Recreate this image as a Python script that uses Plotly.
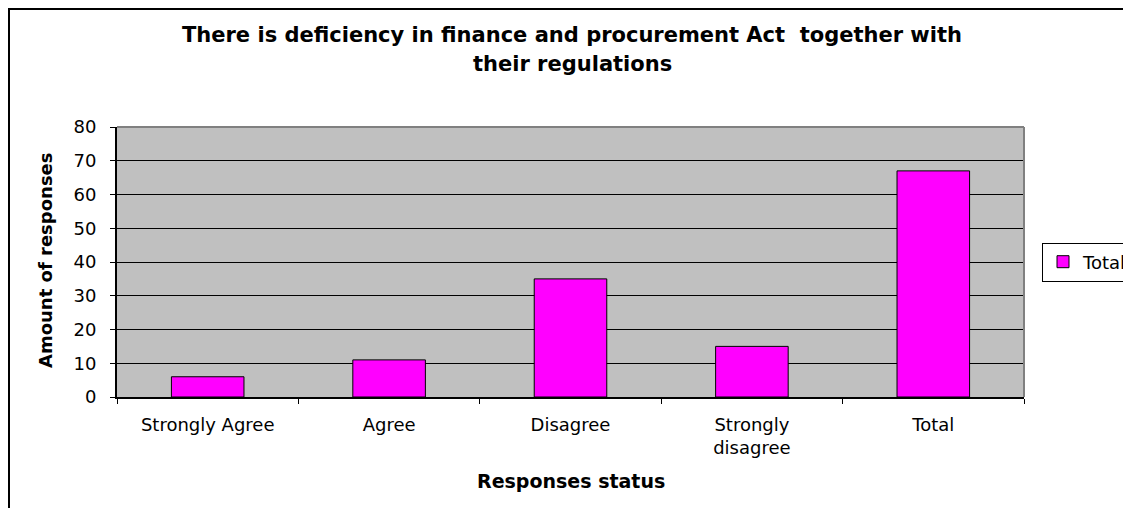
import plotly.graph_objects as go

categories = ["Strongly Agree", "Agree", "Disagree", "Strongly<br>disagree", "Total"]
values = [6, 11, 35, 15, 67]
series_name = "Total"
title_lines = ["There is deficiency in finance and procurement Act  together with",
               "their regulations"]
x_title = "Responses status"
y_title = "Amount of responses"
y_ticks = [0, 10, 20, 30, 40, 50, 60, 70, 80]

# page body has an 8px margin: express reference pixel positions shifted by it
OFF = 8
W, H = 1131, 508
L, T = 117 - OFF, 127 - OFF
R = W - (1024 - OFF)
B = H - (397 - OFF)
pw, ph = W - L - R, H - T - B

def px_x(x):
    return (x - OFF - L) / pw

def px_y(y):
    return 1 - (y - OFF - T) / ph

FONT = "DejaVu Sans"

fig = go.Figure()
fig.add_trace(go.Bar(
    x=categories, y=values, name=series_name,
    marker=dict(color="#FF00FF", line=dict(color="black", width=1)),
    showlegend=True,
))

fig.update_layout(
    width=W, height=H,
    margin=dict(l=L, r=R, t=T, b=B, autoexpand=False),
    paper_bgcolor="white",
    plot_bgcolor="#C0C0C0",
    bargap=0.6,
    font=dict(family=FONT, color="black", size=18),
    showlegend=True,
    legend=dict(
        x=px_x(1042), xanchor="left", y=px_y(262), yanchor="middle",
        bordercolor="black", borderwidth=1, bgcolor="white",
        font=dict(family=FONT, size=18, color="black"),
        itemwidth=30,
    ),
    xaxis=dict(
        showline=True, linecolor="black", linewidth=2,
        ticks="outside", tickson="boundaries", ticklen=5, tickcolor="black", tickwidth=1,
        showgrid=False, tickfont=dict(family=FONT, size=18, color="black"),
        ticklabelstandoff=10,
    ),
    yaxis=dict(
        range=[0, 80], tickvals=y_ticks,
        showline=True, linecolor="black", linewidth=2,
        ticks="outside", ticklen=5, tickcolor="black", tickwidth=1,
        showgrid=True, gridcolor="black", gridwidth=1, zeroline=False,
        tickfont=dict(family=FONT, size=18, color="black"),
        ticklabelstandoff=10,
    ),
    annotations=[
        dict(text="<b>%s</b>" % title_lines[0], xref="paper", yref="paper",
             x=px_x(572), y=px_y(35), xanchor="center", yanchor="middle",
             showarrow=False, font=dict(family=FONT, size=21, color="black")),
        dict(text="<b>%s</b>" % title_lines[1], xref="paper", yref="paper",
             x=px_x(572), y=px_y(64), xanchor="center", yanchor="middle",
             showarrow=False, font=dict(family=FONT, size=21, color="black")),
        dict(text="<b>%s</b>" % x_title, xref="paper", yref="paper",
             x=px_x(571), y=px_y(481), xanchor="center", yanchor="middle",
             showarrow=False, font=dict(family=FONT, size=19, color="black")),
        dict(text="<b>%s</b>" % y_title, xref="paper", yref="paper",
             x=px_x(45), y=px_y(260), xanchor="center", yanchor="middle",
             textangle=-90, showarrow=False, font=dict(family=FONT, size=18, color="black")),
    ],
    shapes=[
        # outer chart frame (left and top edges visible)
        dict(type="line", xref="paper", yref="paper", x0=px_x(9), x1=px_x(9),
             y0=px_y(700), y1=px_y(8), line=dict(color="black", width=2)),
        dict(type="line", xref="paper", yref="paper", x0=px_x(8), x1=px_x(1300),
             y0=px_y(9), y1=px_y(9), line=dict(color="black", width=2)),
        # plot area border top/right in gray
        dict(type="line", xref="paper", yref="paper", x0=0, x1=1, y0=1, y1=1,
             line=dict(color="#808080", width=2), layer="above"),
        dict(type="line", xref="paper", yref="paper", x0=1, x1=1, y0=0, y1=1,
             line=dict(color="#808080", width=2), layer="above"),
    ],
)

fig.write_html("out.html")
